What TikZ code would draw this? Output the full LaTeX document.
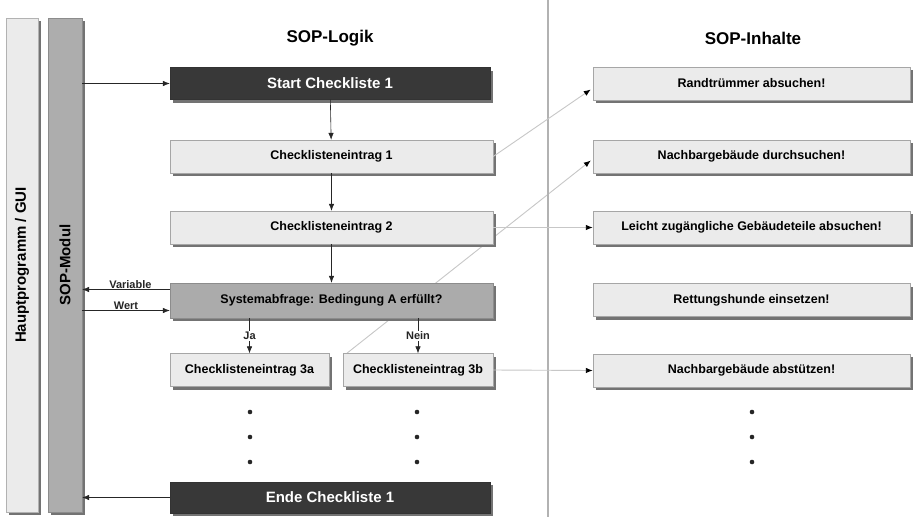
\documentclass[tikz,border=0pt]{standalone}
\usepackage{fontspec}
\setmainfont{Liberation Sans}
\usetikzlibrary{arrows.meta,shadows,calc}
\pgfdeclarelayer{bg}
\pgfsetlayers{bg,main}
\tikzset{
  sh/.style={drop shadow={shadow xshift=3pt,shadow yshift=-3pt,fill=black!55,opacity=1}},
  lbox/.style={draw=black!35, fill=black!8, sh, font=\bfseries\fontsize{12.5}{14}\selectfont, minimum height=33pt, inner sep=0pt},
  gbox/.style={draw=black!45, fill=black!33, sh, font=\bfseries\fontsize{12.5}{14}\selectfont, minimum height=35pt, inner sep=0pt},
  dbox/.style={draw=black!80, fill=black!78, text=white!92, sh, font=\bfseries\fontsize{15}{17}\selectfont, minimum height=32pt, inner sep=0pt},
  bar/.style={sh, minimum height=494pt, inner sep=0pt, font=\bfseries\fontsize{15}{17}\selectfont},
  arr/.style={-{Latex[length=7pt,width=5.5pt]}, black!85, line width=0.6pt},
  garr/.style={draw=black!22, line width=0.9pt, -{Latex[length=7pt,width=5.5pt,color=black]}},
  lab/.style={font=\bfseries\fontsize{11}{12}\selectfont, inner sep=1pt},
  ttl/.style={font=\bfseries\fontsize{17}{19}\selectfont},
  dot/.style={fill=black!85}
}
\begin{document}
\begin{tikzpicture}[x=1pt,y=-1pt]
\useasboundingbox (0,0) rectangle (915,517);
\begin{pgfonlayer}{bg}
\fill[white] (0,0) rectangle (915,517);
\end{pgfonlayer}

% divider
\draw[black!30, line width=1.5pt] (548,0) -- (548,517);

% side bars
\node[bar, draw=black!30, fill=black!8, minimum width=32pt] (gui) at (22,265) {};
\node[rotate=90, font=\bfseries\fontsize{15}{17}\selectfont] (guit) at (gui.center) {Hauptprogramm / GUI};
\node[bar, draw=black!45, fill=black!32, minimum width=34pt] (sop) at (65,265) {};
\node[rotate=90, font=\bfseries\fontsize{15}{17}\selectfont] (sopt) at (sop.center) {SOP-Modul};

% titles
\node[ttl] (t1) at (330,38) {SOP-Logik};
\node[ttl] (t2) at (753,38) {SOP-Inhalte};

% left column
\node[dbox, minimum width=320pt] (start) at (330,83.5) {Start Checkliste 1};
\node[lbox, minimum width=323pt] (e1) at (331.5,156.5) {Checklisteneintrag 1};
\node[lbox, minimum width=323pt] (e2) at (331.5,227.5) {Checklisteneintrag 2};
\node[gbox, minimum width=323pt] (sys) at (331.5,300.5) {Systemabfrage: Bedingung A erfüllt?};
\node[lbox, minimum width=159pt] (e3a) at (249.5,370) {Checklisteneintrag 3a};
\node[lbox, minimum width=150pt] (e3b) at (418,370) {Checklisteneintrag 3b};
\node[dbox, minimum width=320pt, minimum height=31pt] (ende) at (330,497.5) {Ende Checkliste 1};

% right column
\node[lbox, minimum width=317pt] (r1) at (751.5,83.5) {Randtrümmer absuchen!};
\node[lbox, minimum width=317pt] (r2) at (751.5,156.5) {Nachbargebäude durchsuchen!};
\node[lbox, minimum width=317pt] (r3) at (751.5,227.5) {Leicht zugängliche Gebäudeteile absuchen!};
\node[lbox, minimum width=317pt] (r4) at (751.5,300) {Rettungshunde einsetzen!};
\node[lbox, minimum width=317pt] (r5) at (751.5,370.5) {Nachbargebäude abstützen!};

% gray connectors (one runs behind the boxes)
\begin{pgfonlayer}{bg}
\draw[garr] ($(e3b.north west)+(4,0)$) -- ($(r2.west)+(-2,4)$);
\end{pgfonlayer}
\draw[garr] (e1.east) -- ($(r1.west)+(-2,6)$);
\draw[garr] (e2.east) -- (r3.west);
\draw[garr] (e3b.east) -- (r5.west);

% black connectors
\draw[arr] (sop.east |- start.west) -- (start.west);
\draw[arr] (start) -- (e1);
\draw[arr] (e1) -- (e2);
\draw[arr] (e2) -- (sys);
\coordinate (sv) at ($(sys.west)+(0,-11)$);
\coordinate (sw) at ($(sys.west)+(0,10)$);
\draw[arr] (sv) -- (sop.east |- sv) node[lab, pos=0.45, above] {Variable};
\draw[arr] (sop.east |- sw) -- (sw) node[lab, pos=0.5, above] {Wert};
\draw[arr] (sys.south -| e3a) -- (e3a.north) node[lab, midway, fill=white] {Ja};
\draw[arr] (sys.south -| e3b) -- (e3b.north) node[lab, midway, fill=white] {Nein};
\draw[arr] (ende.west) -- (sop.east |- ende.west);

% dots
\foreach \x in {250,417,752}{
  \foreach \y in {412,437,462}{
    \fill[dot] (\x,\y) circle (2.3);
  }
}
\end{tikzpicture}
\end{document}
